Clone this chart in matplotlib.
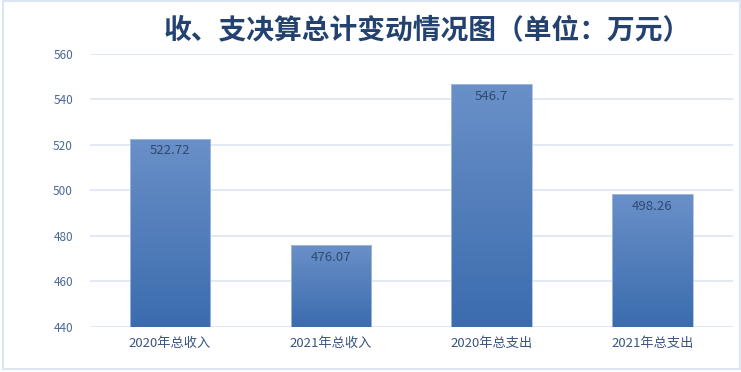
import matplotlib.pyplot as plt
import matplotlib.colors as mcolors
import numpy as np
from matplotlib.patches import Rectangle

plt.rcParams['font.family'] = ['Noto Sans CJK SC', 'DejaVu Sans']

# data
categories = ['2020年总收入', '2021年总收入', '2020年总支出', '2021年总支出']
values = [522.72, 476.07, 546.7, 498.26]
labels = ['522.72', '476.07', '546.7', '498.26']
title = '收、支决算总计变动情况图（单位：万元）'

fig = plt.figure(figsize=(7.41, 3.72), dpi=100)
ax = fig.add_axes([0.121, 0.121, 0.868, 0.734])

# outer light-blue frame
fig.patches.append(Rectangle((0.004, 0.008), 0.994, 0.988, transform=fig.transFigure,
                             fill=False, edgecolor='#dbe5f3', linewidth=1.5))

x = np.arange(len(categories))
bars = ax.bar(x, values, width=0.5, bottom=0, color='none', edgecolor='#a9bfdf',
              linewidth=0.6, zorder=3)

ax.set_ylim(440, 560)
ax.set_xlim(-0.5, len(categories) - 0.5)

# vertical gradient: lighter on top, darker at bottom
cm = mcolors.LinearSegmentedColormap.from_list('bar_grad', ['#3b6cae', '#6a90c8'])
grad = np.linspace(0, 1, 256).reshape(-1, 1)
for b in bars:
    x0 = b.get_x()
    w = b.get_width()
    top = b.get_height()
    im = ax.imshow(grad, cmap=cm, origin='lower', aspect='auto',
                   extent=[x0, x0 + w, 440, top], zorder=2)
    im.set_clip_path(b)

for xi, v, lab in zip(x, values, labels):
    ax.text(xi, v - 2.5, lab, ha='center', va='top', fontsize=9.5, color='#2e4a72', zorder=4)

ax.set_yticks(np.arange(440, 561, 20))
ax.set_xticks(x)
ax.set_xticklabels(categories)
ax.tick_params(axis='y', length=0, labelsize=8.5, colors='#4a6896', pad=12)
ax.tick_params(axis='x', length=0, labelsize=9.5, colors='#3a5580', pad=7)
ax.grid(axis='y', color='#dce6f2', linewidth=1.2, zorder=0)
ax.set_axisbelow(True)
for s in ax.spines.values():
    s.set_visible(False)

fig.text(0.577, 0.918, title, ha='center', va='center', fontsize=20,
         fontweight='bold', color='#23426f')

fig.savefig('out.png', dpi=100)
